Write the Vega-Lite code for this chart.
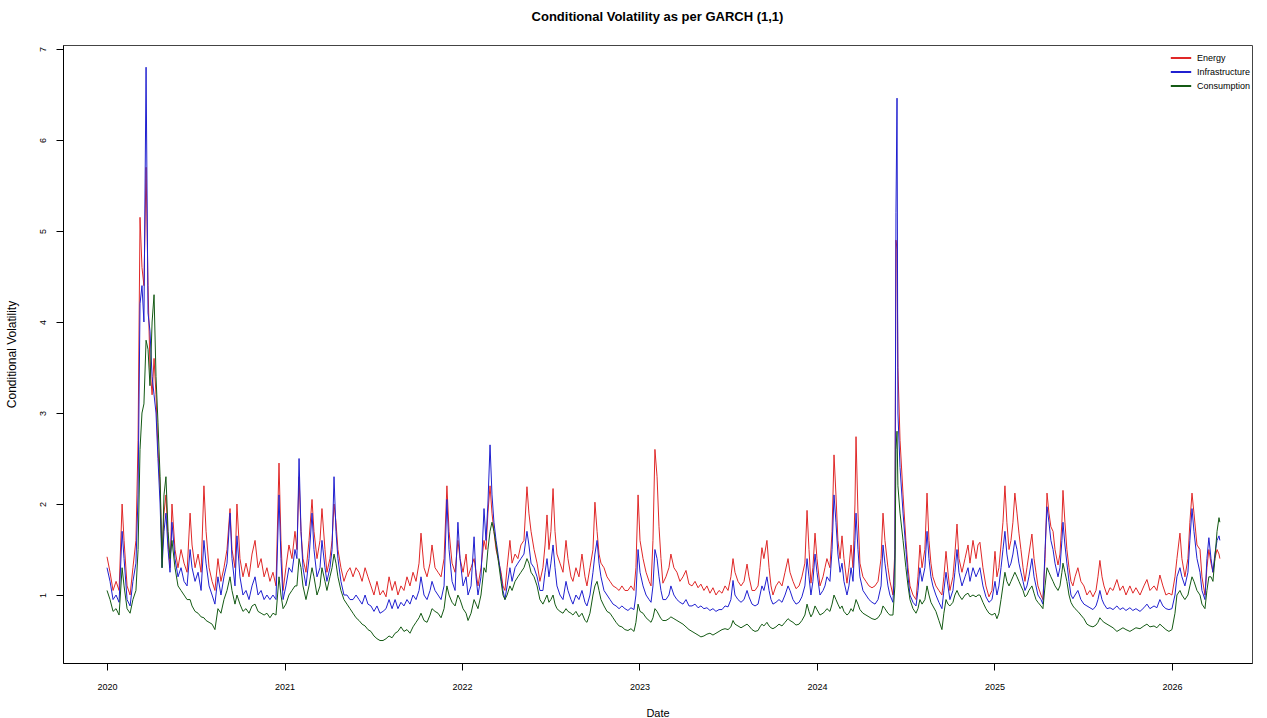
{
"$schema":"https://vega.github.io/schema/vega-lite/v6.json",
"autosize":"none",
"width":1189,"height":618,
"padding":{"left":63,"top":45,"right":15,"bottom":55},
"background":"white",
"config":{"view":{"stroke":"#444","strokeWidth":1},"font":"Liberation Sans"},
"title":{"text":"Conditional Volatility as per GARCH (1,1)","fontSize":13,"fontWeight":"bold","offset":21,"color":"#000"},
"data":{"values":[
{"t":2020.000,"e":1.42,"i":1.30,"c":1.05},
{"t":2020.017,"e":1.25,"i":1.15,"c":0.95},
{"t":2020.034,"e":1.05,"i":0.95,"c":0.82},
{"t":2020.051,"e":1.15,"i":1.00,"c":0.85},
{"t":2020.068,"e":1.05,"i":0.92,"c":0.78},
{"t":2020.085,"e":2.00,"i":1.70,"c":1.30},
{"t":2020.096,"e":1.60,"i":1.40,"c":1.10},
{"t":2020.113,"e":1.10,"i":0.95,"c":0.85},
{"t":2020.130,"e":1.00,"i":0.88,"c":0.80},
{"t":2020.146,"e":1.30,"i":1.15,"c":0.95},
{"t":2020.163,"e":1.60,"i":1.35,"c":1.05},
{"t":2020.175,"e":2.70,"i":2.10,"c":1.50},
{"t":2020.186,"e":5.15,"i":4.20,"c":2.60},
{"t":2020.197,"e":4.60,"i":4.40,"c":3.00},
{"t":2020.208,"e":4.40,"i":4.00,"c":3.10},
{"t":2020.220,"e":5.70,"i":6.80,"c":3.80},
{"t":2020.231,"e":4.40,"i":4.10,"c":3.70},
{"t":2020.242,"e":3.50,"i":3.90,"c":3.30},
{"t":2020.254,"e":3.20,"i":3.40,"c":4.00},
{"t":2020.265,"e":3.60,"i":3.20,"c":4.30},
{"t":2020.276,"e":3.20,"i":3.00,"c":3.40},
{"t":2020.287,"e":2.60,"i":2.50,"c":2.90},
{"t":2020.299,"e":2.20,"i":2.00,"c":2.30},
{"t":2020.310,"e":1.40,"i":1.30,"c":1.30},
{"t":2020.321,"e":1.90,"i":1.70,"c":2.10},
{"t":2020.332,"e":2.10,"i":1.90,"c":2.30},
{"t":2020.344,"e":1.60,"i":1.50,"c":1.70},
{"t":2020.355,"e":1.30,"i":1.25,"c":1.40},
{"t":2020.366,"e":2.00,"i":1.80,"c":1.60},
{"t":2020.383,"e":1.50,"i":1.40,"c":1.30},
{"t":2020.400,"e":1.30,"i":1.20,"c":1.10},
{"t":2020.417,"e":1.50,"i":1.30,"c":1.05},
{"t":2020.434,"e":1.35,"i":1.15,"c":1.00},
{"t":2020.451,"e":1.25,"i":1.10,"c":0.95},
{"t":2020.468,"e":1.90,"i":1.50,"c":0.95},
{"t":2020.479,"e":1.55,"i":1.30,"c":0.88},
{"t":2020.496,"e":1.30,"i":1.15,"c":0.82},
{"t":2020.513,"e":1.45,"i":1.25,"c":0.80},
{"t":2020.530,"e":1.25,"i":1.05,"c":0.76},
{"t":2020.546,"e":2.20,"i":1.60,"c":0.75},
{"t":2020.558,"e":1.70,"i":1.35,"c":0.72},
{"t":2020.575,"e":1.30,"i":1.10,"c":0.70},
{"t":2020.592,"e":1.15,"i":1.00,"c":0.68},
{"t":2020.608,"e":1.05,"i":0.90,"c":0.62},
{"t":2020.625,"e":1.40,"i":1.20,"c":0.85},
{"t":2020.642,"e":1.15,"i":1.00,"c":0.80},
{"t":2020.659,"e":1.30,"i":1.20,"c":0.95},
{"t":2020.676,"e":1.50,"i":1.35,"c":1.05},
{"t":2020.693,"e":1.95,"i":1.90,"c":1.20},
{"t":2020.704,"e":1.50,"i":1.40,"c":1.05},
{"t":2020.721,"e":1.30,"i":1.10,"c":0.90},
{"t":2020.732,"e":2.00,"i":1.65,"c":1.00},
{"t":2020.749,"e":1.40,"i":1.20,"c":0.90},
{"t":2020.766,"e":1.20,"i":1.00,"c":0.82},
{"t":2020.783,"e":1.35,"i":1.05,"c":0.85},
{"t":2020.800,"e":1.20,"i":0.95,"c":0.80},
{"t":2020.817,"e":1.45,"i":1.10,"c":0.88},
{"t":2020.834,"e":1.60,"i":1.20,"c":0.90},
{"t":2020.851,"e":1.30,"i":1.00,"c":0.82},
{"t":2020.868,"e":1.40,"i":1.05,"c":0.80},
{"t":2020.885,"e":1.20,"i":0.95,"c":0.78},
{"t":2020.901,"e":1.30,"i":1.00,"c":0.80},
{"t":2020.918,"e":1.15,"i":0.95,"c":0.75},
{"t":2020.935,"e":1.25,"i":1.00,"c":0.80},
{"t":2020.952,"e":1.10,"i":0.95,"c":0.78},
{"t":2020.969,"e":2.45,"i":2.10,"c":1.20},
{"t":2020.980,"e":1.60,"i":1.40,"c":1.00},
{"t":2020.992,"e":1.05,"i":0.95,"c":0.85},
{"t":2021.008,"e":1.30,"i":1.10,"c":0.90},
{"t":2021.025,"e":1.55,"i":1.30,"c":1.00},
{"t":2021.042,"e":1.40,"i":1.25,"c":1.05},
{"t":2021.059,"e":1.70,"i":1.50,"c":1.10},
{"t":2021.070,"e":1.50,"i":1.40,"c":1.10},
{"t":2021.082,"e":2.30,"i":2.50,"c":1.40},
{"t":2021.093,"e":1.70,"i":1.70,"c":1.30},
{"t":2021.104,"e":1.40,"i":1.30,"c":1.10},
{"t":2021.121,"e":1.25,"i":1.10,"c":0.95},
{"t":2021.138,"e":1.60,"i":1.40,"c":1.10},
{"t":2021.155,"e":2.05,"i":1.90,"c":1.30},
{"t":2021.166,"e":1.70,"i":1.50,"c":1.20},
{"t":2021.183,"e":1.40,"i":1.20,"c":1.00},
{"t":2021.200,"e":1.60,"i":1.30,"c":1.10},
{"t":2021.211,"e":1.95,"i":1.60,"c":1.30},
{"t":2021.228,"e":1.50,"i":1.30,"c":1.15},
{"t":2021.239,"e":1.25,"i":1.15,"c":1.05},
{"t":2021.256,"e":1.40,"i":1.30,"c":1.20},
{"t":2021.268,"e":1.60,"i":1.50,"c":1.30},
{"t":2021.279,"e":2.00,"i":2.30,"c":1.45},
{"t":2021.290,"e":1.80,"i":1.70,"c":1.35},
{"t":2021.301,"e":1.50,"i":1.40,"c":1.20},
{"t":2021.318,"e":1.30,"i":1.15,"c":1.05},
{"t":2021.335,"e":1.15,"i":1.00,"c":0.95},
{"t":2021.352,"e":1.25,"i":1.00,"c":0.90},
{"t":2021.369,"e":1.30,"i":0.95,"c":0.85},
{"t":2021.386,"e":1.20,"i":0.95,"c":0.80},
{"t":2021.403,"e":1.30,"i":1.00,"c":0.75},
{"t":2021.420,"e":1.25,"i":0.95,"c":0.72},
{"t":2021.437,"e":1.15,"i":0.90,"c":0.68},
{"t":2021.454,"e":1.30,"i":1.00,"c":0.66},
{"t":2021.470,"e":1.20,"i":0.90,"c":0.62},
{"t":2021.487,"e":1.10,"i":0.88,"c":0.60},
{"t":2021.504,"e":1.00,"i":0.82,"c":0.55},
{"t":2021.521,"e":1.15,"i":0.88,"c":0.52},
{"t":2021.538,"e":1.00,"i":0.80,"c":0.50},
{"t":2021.555,"e":1.05,"i":0.82,"c":0.50},
{"t":2021.572,"e":0.98,"i":0.85,"c":0.52},
{"t":2021.589,"e":1.20,"i":0.95,"c":0.55},
{"t":2021.606,"e":1.05,"i":0.85,"c":0.53},
{"t":2021.623,"e":1.15,"i":0.95,"c":0.58},
{"t":2021.639,"e":1.00,"i":0.85,"c":0.60},
{"t":2021.656,"e":1.10,"i":0.92,"c":0.65},
{"t":2021.673,"e":1.05,"i":0.88,"c":0.60},
{"t":2021.690,"e":1.20,"i":0.95,"c":0.62},
{"t":2021.707,"e":1.10,"i":0.90,"c":0.58},
{"t":2021.724,"e":1.25,"i":1.00,"c":0.65},
{"t":2021.741,"e":1.15,"i":0.95,"c":0.70},
{"t":2021.758,"e":1.35,"i":1.05,"c":0.75},
{"t":2021.769,"e":1.68,"i":1.20,"c":0.80},
{"t":2021.786,"e":1.30,"i":1.00,"c":0.72},
{"t":2021.803,"e":1.20,"i":0.95,"c":0.70},
{"t":2021.820,"e":1.35,"i":1.05,"c":0.78},
{"t":2021.831,"e":1.55,"i":1.15,"c":0.85},
{"t":2021.848,"e":1.30,"i":1.05,"c":0.82},
{"t":2021.865,"e":1.25,"i":1.00,"c":0.80},
{"t":2021.882,"e":1.20,"i":0.95,"c":0.75},
{"t":2021.899,"e":1.40,"i":1.10,"c":0.85},
{"t":2021.915,"e":2.20,"i":2.05,"c":1.10},
{"t":2021.927,"e":1.70,"i":1.50,"c":1.00},
{"t":2021.944,"e":1.35,"i":1.15,"c":0.92},
{"t":2021.961,"e":1.25,"i":1.05,"c":0.88},
{"t":2021.977,"e":1.60,"i":1.80,"c":1.00},
{"t":2021.989,"e":1.40,"i":1.40,"c":0.95},
{"t":2022.006,"e":1.25,"i":1.10,"c":0.85},
{"t":2022.023,"e":1.45,"i":1.20,"c":0.80},
{"t":2022.034,"e":1.20,"i":1.00,"c":0.72},
{"t":2022.051,"e":1.30,"i":1.10,"c":0.80},
{"t":2022.068,"e":1.40,"i":1.64,"c":0.95},
{"t":2022.079,"e":1.25,"i":1.20,"c":0.90},
{"t":2022.090,"e":1.10,"i":1.00,"c":0.85},
{"t":2022.107,"e":1.30,"i":1.20,"c":1.00},
{"t":2022.124,"e":1.60,"i":1.95,"c":1.30},
{"t":2022.135,"e":1.50,"i":1.60,"c":1.25},
{"t":2022.146,"e":1.90,"i":2.00,"c":1.50},
{"t":2022.158,"e":2.20,"i":2.65,"c":1.70},
{"t":2022.169,"e":1.90,"i":2.10,"c":1.80},
{"t":2022.180,"e":1.70,"i":1.80,"c":1.70},
{"t":2022.192,"e":1.50,"i":1.60,"c":1.55},
{"t":2022.203,"e":1.40,"i":1.45,"c":1.40},
{"t":2022.220,"e":1.25,"i":1.20,"c":1.15},
{"t":2022.231,"e":1.10,"i":1.05,"c":1.00},
{"t":2022.242,"e":1.05,"i":0.95,"c":0.95},
{"t":2022.254,"e":1.30,"i":1.10,"c":1.00},
{"t":2022.270,"e":1.60,"i":1.30,"c":1.10},
{"t":2022.282,"e":1.35,"i":1.15,"c":1.05},
{"t":2022.299,"e":1.45,"i":1.30,"c":1.15},
{"t":2022.315,"e":1.40,"i":1.35,"c":1.20},
{"t":2022.332,"e":1.55,"i":1.40,"c":1.25},
{"t":2022.349,"e":1.60,"i":1.45,"c":1.30},
{"t":2022.366,"e":2.19,"i":1.70,"c":1.40},
{"t":2022.377,"e":1.90,"i":1.55,"c":1.35},
{"t":2022.389,"e":1.70,"i":1.35,"c":1.25},
{"t":2022.406,"e":1.50,"i":1.30,"c":1.20},
{"t":2022.423,"e":1.35,"i":1.20,"c":1.10},
{"t":2022.439,"e":1.15,"i":1.05,"c":0.95},
{"t":2022.456,"e":1.30,"i":1.05,"c":0.90},
{"t":2022.468,"e":1.55,"i":1.25,"c":0.95},
{"t":2022.479,"e":1.88,"i":1.40,"c":1.00},
{"t":2022.490,"e":1.50,"i":1.20,"c":0.92},
{"t":2022.501,"e":1.70,"i":1.35,"c":0.95},
{"t":2022.513,"e":2.17,"i":1.55,"c":1.00},
{"t":2022.524,"e":1.70,"i":1.30,"c":0.90},
{"t":2022.535,"e":1.45,"i":1.10,"c":0.85},
{"t":2022.552,"e":1.35,"i":1.00,"c":0.82},
{"t":2022.569,"e":1.25,"i":0.95,"c":0.80},
{"t":2022.586,"e":1.60,"i":1.15,"c":0.85},
{"t":2022.597,"e":1.40,"i":1.05,"c":0.82},
{"t":2022.614,"e":1.20,"i":0.95,"c":0.80},
{"t":2022.625,"e":1.15,"i":0.90,"c":0.78},
{"t":2022.642,"e":1.30,"i":1.00,"c":0.82},
{"t":2022.659,"e":1.20,"i":0.95,"c":0.76},
{"t":2022.676,"e":1.45,"i":1.05,"c":0.80},
{"t":2022.693,"e":1.20,"i":0.92,"c":0.72},
{"t":2022.704,"e":1.10,"i":0.88,"c":0.70},
{"t":2022.721,"e":1.30,"i":1.00,"c":0.80},
{"t":2022.738,"e":1.50,"i":1.25,"c":1.00},
{"t":2022.749,"e":2.02,"i":1.45,"c":1.10},
{"t":2022.761,"e":1.70,"i":1.60,"c":1.15},
{"t":2022.772,"e":1.45,"i":1.35,"c":1.05},
{"t":2022.783,"e":1.35,"i":1.20,"c":0.95},
{"t":2022.800,"e":1.30,"i":1.05,"c":0.88},
{"t":2022.817,"e":1.20,"i":1.00,"c":0.82},
{"t":2022.834,"e":1.15,"i":0.95,"c":0.80},
{"t":2022.851,"e":1.10,"i":0.90,"c":0.75},
{"t":2022.868,"e":1.08,"i":0.88,"c":0.70},
{"t":2022.885,"e":1.05,"i":0.85,"c":0.66},
{"t":2022.901,"e":1.10,"i":0.88,"c":0.65},
{"t":2022.918,"e":1.05,"i":0.85,"c":0.62},
{"t":2022.935,"e":1.05,"i":0.83,"c":0.61},
{"t":2022.952,"e":1.10,"i":0.86,"c":0.63},
{"t":2022.969,"e":1.05,"i":0.84,"c":0.60},
{"t":2022.980,"e":1.30,"i":1.00,"c":0.70},
{"t":2022.992,"e":2.10,"i":1.50,"c":0.90},
{"t":2023.003,"e":1.60,"i":1.25,"c":0.82},
{"t":2023.020,"e":1.40,"i":1.10,"c":0.80},
{"t":2023.037,"e":1.25,"i":1.00,"c":0.75},
{"t":2023.054,"e":1.15,"i":0.95,"c":0.72},
{"t":2023.065,"e":1.10,"i":0.92,"c":0.70},
{"t":2023.076,"e":1.60,"i":1.10,"c":0.75},
{"t":2023.087,"e":2.60,"i":1.50,"c":0.85},
{"t":2023.099,"e":2.30,"i":1.40,"c":0.82},
{"t":2023.110,"e":1.75,"i":1.20,"c":0.78},
{"t":2023.121,"e":1.40,"i":1.05,"c":0.74},
{"t":2023.132,"e":1.13,"i":0.95,"c":0.72},
{"t":2023.149,"e":1.20,"i":0.95,"c":0.72},
{"t":2023.166,"e":1.30,"i":1.00,"c":0.74},
{"t":2023.177,"e":1.45,"i":1.10,"c":0.76},
{"t":2023.194,"e":1.30,"i":1.00,"c":0.74},
{"t":2023.211,"e":1.25,"i":0.95,"c":0.72},
{"t":2023.228,"e":1.15,"i":0.92,"c":0.70},
{"t":2023.245,"e":1.20,"i":0.90,"c":0.68},
{"t":2023.262,"e":1.27,"i":0.95,"c":0.65},
{"t":2023.279,"e":1.12,"i":0.88,"c":0.62},
{"t":2023.296,"e":1.10,"i":0.88,"c":0.60},
{"t":2023.313,"e":1.15,"i":0.90,"c":0.58},
{"t":2023.330,"e":1.08,"i":0.86,"c":0.56},
{"t":2023.346,"e":1.12,"i":0.88,"c":0.54},
{"t":2023.363,"e":1.05,"i":0.85,"c":0.55},
{"t":2023.380,"e":1.10,"i":0.86,"c":0.57},
{"t":2023.397,"e":1.02,"i":0.83,"c":0.58},
{"t":2023.414,"e":1.08,"i":0.85,"c":0.56},
{"t":2023.431,"e":1.00,"i":0.82,"c":0.58},
{"t":2023.448,"e":1.05,"i":0.84,"c":0.60},
{"t":2023.465,"e":1.02,"i":0.84,"c":0.62},
{"t":2023.482,"e":1.10,"i":0.88,"c":0.63},
{"t":2023.499,"e":1.05,"i":0.87,"c":0.62},
{"t":2023.515,"e":1.20,"i":0.95,"c":0.65},
{"t":2023.527,"e":1.40,"i":1.16,"c":0.72},
{"t":2023.538,"e":1.25,"i":1.00,"c":0.68},
{"t":2023.555,"e":1.15,"i":0.95,"c":0.66},
{"t":2023.572,"e":1.10,"i":0.92,"c":0.64},
{"t":2023.589,"e":1.15,"i":0.95,"c":0.66},
{"t":2023.606,"e":1.34,"i":1.05,"c":0.68},
{"t":2023.617,"e":1.20,"i":0.98,"c":0.66},
{"t":2023.634,"e":1.05,"i":0.90,"c":0.62},
{"t":2023.651,"e":1.05,"i":0.88,"c":0.60},
{"t":2023.668,"e":1.10,"i":0.90,"c":0.61},
{"t":2023.679,"e":1.30,"i":1.00,"c":0.65},
{"t":2023.690,"e":1.52,"i":1.10,"c":0.68},
{"t":2023.701,"e":1.40,"i":1.05,"c":0.66},
{"t":2023.718,"e":1.60,"i":1.20,"c":0.70},
{"t":2023.730,"e":1.30,"i":1.05,"c":0.66},
{"t":2023.741,"e":1.10,"i":0.95,"c":0.64},
{"t":2023.752,"e":1.00,"i":0.90,"c":0.63},
{"t":2023.769,"e":1.10,"i":0.92,"c":0.65},
{"t":2023.786,"e":1.15,"i":0.95,"c":0.68},
{"t":2023.803,"e":1.10,"i":0.92,"c":0.66},
{"t":2023.820,"e":1.25,"i":1.00,"c":0.70},
{"t":2023.837,"e":1.40,"i":1.10,"c":0.74},
{"t":2023.848,"e":1.25,"i":1.05,"c":0.72},
{"t":2023.865,"e":1.15,"i":0.95,"c":0.70},
{"t":2023.882,"e":1.07,"i":0.90,"c":0.67},
{"t":2023.899,"e":1.10,"i":0.92,"c":0.68},
{"t":2023.915,"e":1.20,"i":0.98,"c":0.72},
{"t":2023.932,"e":1.35,"i":1.10,"c":0.78},
{"t":2023.944,"e":1.93,"i":1.40,"c":0.90},
{"t":2023.955,"e":1.50,"i":1.20,"c":0.82},
{"t":2023.966,"e":1.13,"i":1.00,"c":0.76},
{"t":2023.977,"e":1.30,"i":1.15,"c":0.80},
{"t":2023.989,"e":1.68,"i":1.45,"c":0.88},
{"t":2024.000,"e":1.40,"i":1.25,"c":0.84},
{"t":2024.017,"e":1.10,"i":1.00,"c":0.78},
{"t":2024.034,"e":1.20,"i":1.05,"c":0.80},
{"t":2024.045,"e":1.30,"i":1.10,"c":0.82},
{"t":2024.056,"e":1.40,"i":1.20,"c":0.85},
{"t":2024.073,"e":1.30,"i":1.15,"c":0.82},
{"t":2024.085,"e":1.70,"i":1.50,"c":0.90},
{"t":2024.096,"e":2.54,"i":2.10,"c":1.00},
{"t":2024.107,"e":2.10,"i":1.80,"c":0.95},
{"t":2024.118,"e":1.60,"i":1.45,"c":0.90},
{"t":2024.130,"e":1.40,"i":1.25,"c":0.85},
{"t":2024.141,"e":1.65,"i":1.35,"c":0.88},
{"t":2024.152,"e":1.40,"i":1.15,"c":0.82},
{"t":2024.169,"e":1.13,"i":1.00,"c":0.78},
{"t":2024.180,"e":1.30,"i":1.10,"c":0.80},
{"t":2024.192,"e":1.55,"i":1.30,"c":0.85},
{"t":2024.203,"e":1.30,"i":1.15,"c":0.82},
{"t":2024.214,"e":2.00,"i":1.60,"c":0.90},
{"t":2024.220,"e":2.74,"i":1.90,"c":0.95},
{"t":2024.231,"e":1.90,"i":1.50,"c":0.90},
{"t":2024.242,"e":1.35,"i":1.20,"c":0.84},
{"t":2024.259,"e":1.20,"i":1.05,"c":0.80},
{"t":2024.276,"e":1.15,"i":1.00,"c":0.78},
{"t":2024.293,"e":1.10,"i":0.95,"c":0.76},
{"t":2024.310,"e":1.08,"i":0.92,"c":0.74},
{"t":2024.327,"e":1.10,"i":0.90,"c":0.73},
{"t":2024.344,"e":1.15,"i":0.95,"c":0.75},
{"t":2024.361,"e":1.40,"i":1.10,"c":0.80},
{"t":2024.372,"e":1.90,"i":1.55,"c":0.88},
{"t":2024.383,"e":1.60,"i":1.35,"c":0.85},
{"t":2024.400,"e":1.30,"i":1.10,"c":0.80},
{"t":2024.411,"e":1.15,"i":1.00,"c":0.78},
{"t":2024.428,"e":1.00,"i":0.92,"c":0.78},
{"t":2024.439,"e":1.50,"i":1.40,"c":1.10},
{"t":2024.445,"e":4.90,"i":5.20,"c":2.60},
{"t":2024.451,"e":4.80,"i":6.46,"c":2.80},
{"t":2024.456,"e":3.50,"i":3.00,"c":2.20},
{"t":2024.468,"e":2.70,"i":2.40,"c":1.90},
{"t":2024.485,"e":2.10,"i":1.90,"c":1.60},
{"t":2024.501,"e":1.60,"i":1.50,"c":1.30},
{"t":2024.513,"e":1.30,"i":1.20,"c":1.10},
{"t":2024.524,"e":1.10,"i":1.00,"c":0.95},
{"t":2024.541,"e":1.00,"i":0.92,"c":0.85},
{"t":2024.558,"e":0.95,"i":0.88,"c":0.80},
{"t":2024.569,"e":1.20,"i":1.05,"c":0.85},
{"t":2024.580,"e":1.55,"i":1.30,"c":0.95},
{"t":2024.592,"e":1.30,"i":1.15,"c":0.90},
{"t":2024.608,"e":1.50,"i":1.30,"c":0.95},
{"t":2024.620,"e":2.12,"i":1.70,"c":1.10},
{"t":2024.631,"e":1.60,"i":1.40,"c":1.00},
{"t":2024.642,"e":1.35,"i":1.20,"c":0.92},
{"t":2024.653,"e":1.20,"i":1.10,"c":0.88},
{"t":2024.670,"e":1.10,"i":1.00,"c":0.82},
{"t":2024.687,"e":1.05,"i":0.92,"c":0.72},
{"t":2024.704,"e":1.00,"i":0.85,"c":0.62},
{"t":2024.715,"e":1.20,"i":1.05,"c":0.80},
{"t":2024.727,"e":1.48,"i":1.25,"c":0.95},
{"t":2024.738,"e":1.25,"i":1.10,"c":0.90},
{"t":2024.749,"e":1.05,"i":0.95,"c":0.88},
{"t":2024.766,"e":1.20,"i":1.05,"c":0.92},
{"t":2024.777,"e":1.45,"i":1.25,"c":1.00},
{"t":2024.789,"e":1.78,"i":1.50,"c":1.05},
{"t":2024.800,"e":1.40,"i":1.25,"c":1.00},
{"t":2024.817,"e":1.25,"i":1.10,"c":0.95},
{"t":2024.834,"e":1.40,"i":1.20,"c":1.00},
{"t":2024.851,"e":1.55,"i":1.30,"c":1.02},
{"t":2024.862,"e":1.35,"i":1.15,"c":0.98},
{"t":2024.879,"e":1.60,"i":1.30,"c":1.00},
{"t":2024.896,"e":1.40,"i":1.20,"c":0.98},
{"t":2024.907,"e":1.55,"i":1.25,"c":1.00},
{"t":2024.918,"e":1.58,"i":1.30,"c":1.00},
{"t":2024.935,"e":1.30,"i":1.10,"c":0.92},
{"t":2024.952,"e":1.10,"i":0.98,"c":0.85},
{"t":2024.969,"e":0.98,"i":0.92,"c":0.80},
{"t":2024.986,"e":1.05,"i":0.95,"c":0.78},
{"t":2025.003,"e":1.48,"i":1.15,"c":0.80},
{"t":2025.014,"e":1.20,"i":1.00,"c":0.74},
{"t":2025.025,"e":1.30,"i":1.10,"c":0.80},
{"t":2025.037,"e":1.55,"i":1.30,"c":0.95},
{"t":2025.048,"e":1.80,"i":1.50,"c":1.10},
{"t":2025.059,"e":2.20,"i":1.70,"c":1.25},
{"t":2025.070,"e":1.80,"i":1.45,"c":1.15},
{"t":2025.082,"e":1.50,"i":1.30,"c":1.10},
{"t":2025.093,"e":1.60,"i":1.35,"c":1.15},
{"t":2025.104,"e":1.80,"i":1.45,"c":1.20},
{"t":2025.115,"e":2.12,"i":1.60,"c":1.25},
{"t":2025.127,"e":1.90,"i":1.50,"c":1.20},
{"t":2025.138,"e":1.68,"i":1.35,"c":1.15},
{"t":2025.149,"e":1.50,"i":1.25,"c":1.10},
{"t":2025.161,"e":1.30,"i":1.15,"c":1.05},
{"t":2025.172,"e":1.15,"i":1.05,"c":0.98},
{"t":2025.183,"e":1.30,"i":1.10,"c":1.00},
{"t":2025.194,"e":1.45,"i":1.20,"c":1.05},
{"t":2025.211,"e":1.67,"i":1.40,"c":1.10},
{"t":2025.223,"e":1.40,"i":1.20,"c":1.02},
{"t":2025.234,"e":1.25,"i":1.10,"c":0.95},
{"t":2025.245,"e":1.10,"i":1.00,"c":0.92},
{"t":2025.262,"e":1.00,"i":0.95,"c":0.88},
{"t":2025.273,"e":0.95,"i":0.90,"c":0.85},
{"t":2025.285,"e":1.40,"i":1.50,"c":1.10},
{"t":2025.296,"e":2.12,"i":1.97,"c":1.30},
{"t":2025.307,"e":1.90,"i":1.80,"c":1.25},
{"t":2025.318,"e":1.75,"i":1.60,"c":1.20},
{"t":2025.330,"e":1.70,"i":1.50,"c":1.15},
{"t":2025.341,"e":1.50,"i":1.35,"c":1.10},
{"t":2025.358,"e":1.33,"i":1.20,"c":1.05},
{"t":2025.369,"e":1.45,"i":1.30,"c":1.10},
{"t":2025.380,"e":1.80,"i":1.60,"c":1.25},
{"t":2025.386,"e":2.15,"i":1.80,"c":1.35},
{"t":2025.397,"e":1.80,"i":1.55,"c":1.25},
{"t":2025.408,"e":1.50,"i":1.35,"c":1.15},
{"t":2025.420,"e":1.30,"i":1.15,"c":1.00},
{"t":2025.431,"e":1.15,"i":1.00,"c":0.92},
{"t":2025.442,"e":1.10,"i":0.96,"c":0.88},
{"t":2025.454,"e":1.20,"i":1.00,"c":0.85},
{"t":2025.470,"e":1.30,"i":1.05,"c":0.82},
{"t":2025.487,"e":1.15,"i":0.95,"c":0.78},
{"t":2025.504,"e":1.10,"i":0.90,"c":0.74},
{"t":2025.521,"e":1.00,"i":0.88,"c":0.68},
{"t":2025.538,"e":1.05,"i":0.86,"c":0.66},
{"t":2025.555,"e":0.98,"i":0.84,"c":0.65},
{"t":2025.572,"e":1.05,"i":0.88,"c":0.67},
{"t":2025.583,"e":1.20,"i":0.95,"c":0.70},
{"t":2025.594,"e":1.38,"i":1.05,"c":0.75},
{"t":2025.606,"e":1.20,"i":0.95,"c":0.72},
{"t":2025.617,"e":1.10,"i":0.90,"c":0.70},
{"t":2025.634,"e":1.00,"i":0.85,"c":0.68},
{"t":2025.651,"e":1.08,"i":0.86,"c":0.66},
{"t":2025.668,"e":1.05,"i":0.84,"c":0.64},
{"t":2025.690,"e":1.17,"i":0.88,"c":0.60},
{"t":2025.707,"e":1.05,"i":0.84,"c":0.62},
{"t":2025.724,"e":1.10,"i":0.86,"c":0.64},
{"t":2025.741,"e":1.00,"i":0.83,"c":0.62},
{"t":2025.763,"e":1.10,"i":0.86,"c":0.60},
{"t":2025.780,"e":1.02,"i":0.83,"c":0.62},
{"t":2025.797,"e":1.08,"i":0.85,"c":0.64},
{"t":2025.820,"e":1.00,"i":0.82,"c":0.63},
{"t":2025.842,"e":1.10,"i":0.86,"c":0.66},
{"t":2025.859,"e":1.17,"i":0.90,"c":0.68},
{"t":2025.876,"e":1.05,"i":0.85,"c":0.65},
{"t":2025.899,"e":1.10,"i":0.88,"c":0.66},
{"t":2025.915,"e":1.05,"i":0.86,"c":0.64},
{"t":2025.932,"e":1.22,"i":0.95,"c":0.68},
{"t":2025.949,"e":1.10,"i":0.88,"c":0.65},
{"t":2025.966,"e":1.00,"i":0.85,"c":0.62},
{"t":2025.983,"e":1.02,"i":0.84,"c":0.60},
{"t":2026.000,"e":1.00,"i":0.85,"c":0.62},
{"t":2026.017,"e":1.20,"i":1.00,"c":0.80},
{"t":2026.028,"e":1.40,"i":1.20,"c":1.00},
{"t":2026.045,"e":1.68,"i":1.30,"c":1.05},
{"t":2026.056,"e":1.40,"i":1.20,"c":1.00},
{"t":2026.073,"e":1.20,"i":1.10,"c":0.95},
{"t":2026.090,"e":1.40,"i":1.25,"c":1.00},
{"t":2026.101,"e":1.80,"i":1.60,"c":1.10},
{"t":2026.113,"e":2.12,"i":1.95,"c":1.20},
{"t":2026.124,"e":1.90,"i":1.70,"c":1.15},
{"t":2026.141,"e":1.55,"i":1.40,"c":1.05},
{"t":2026.158,"e":1.50,"i":1.25,"c":1.00},
{"t":2026.169,"e":1.20,"i":1.05,"c":0.90},
{"t":2026.186,"e":1.00,"i":0.95,"c":0.85},
{"t":2026.197,"e":1.30,"i":1.40,"c":1.05},
{"t":2026.208,"e":1.50,"i":1.63,"c":1.20},
{"t":2026.220,"e":1.35,"i":1.40,"c":1.20},
{"t":2026.231,"e":1.25,"i":1.25,"c":1.15},
{"t":2026.242,"e":1.40,"i":1.45,"c":1.40},
{"t":2026.254,"e":1.50,"i":1.60,"c":1.70},
{"t":2026.265,"e":1.45,"i":1.65,"c":1.85},
{"t":2026.270,"e":1.40,"i":1.60,"c":1.80}
]},
"encoding":{
"x":{"field":"t","type":"quantitative","title":"Date",
 "scale":{"domain":[2019.752,2026.451],"nice":false,"zero":false},
 "axis":{"values":[2020,2021,2022,2023,2024,2025,2026],"format":"d","grid":false,"labelFontSize":9,"labelColor":"#000","tickColor":"#000","domainColor":"#000","tickSize":7,"labelPadding":12,"titleFontSize":11,"titleFontWeight":"normal","titleColor":"#000","titlePadding":16}}
},
"layer":[
{"mark":{"type":"line","strokeWidth":1,"interpolate":"linear"},
 "encoding":{
  "y":{"field":"e","type":"quantitative","title":"Conditional Volatility",
   "scale":{"domain":[0.253,7.044],"nice":false,"zero":false},
   "axis":{"values":[1,2,3,4,5,6,7],"format":"d","grid":false,"labelAngle":-90,"labelAlign":"center","labelBaseline":"bottom","labelFontSize":9,"labelColor":"#000","tickColor":"#000","domainColor":"#000","tickSize":7,"labelPadding":9,"titleFontSize":12,"titleFontWeight":"normal","titleColor":"#000","titlePadding":20}},
  "color":{"datum":"Energy","type":"nominal",
   "scale":{"domain":["Energy","Infrastructure","Consumption"],"range":["#e02828","#2020d0","#145a14"]},
   "legend":{"title":null,"orient":"none","legendX":1111,"legendY":6,"symbolType":"M-1.7,0H1.7","symbolStrokeWidth":2,"symbolSize":144,"labelFontSize":9,"labelColor":"#000","rowPadding":2,"labelOffset":9}}
 }},
{"mark":{"type":"line","strokeWidth":1},
 "encoding":{"y":{"field":"i","type":"quantitative"},"color":{"datum":"Infrastructure","type":"nominal"}}},
{"mark":{"type":"line","strokeWidth":1},
 "encoding":{"y":{"field":"c","type":"quantitative"},"color":{"datum":"Consumption","type":"nominal"}}}
]
}
